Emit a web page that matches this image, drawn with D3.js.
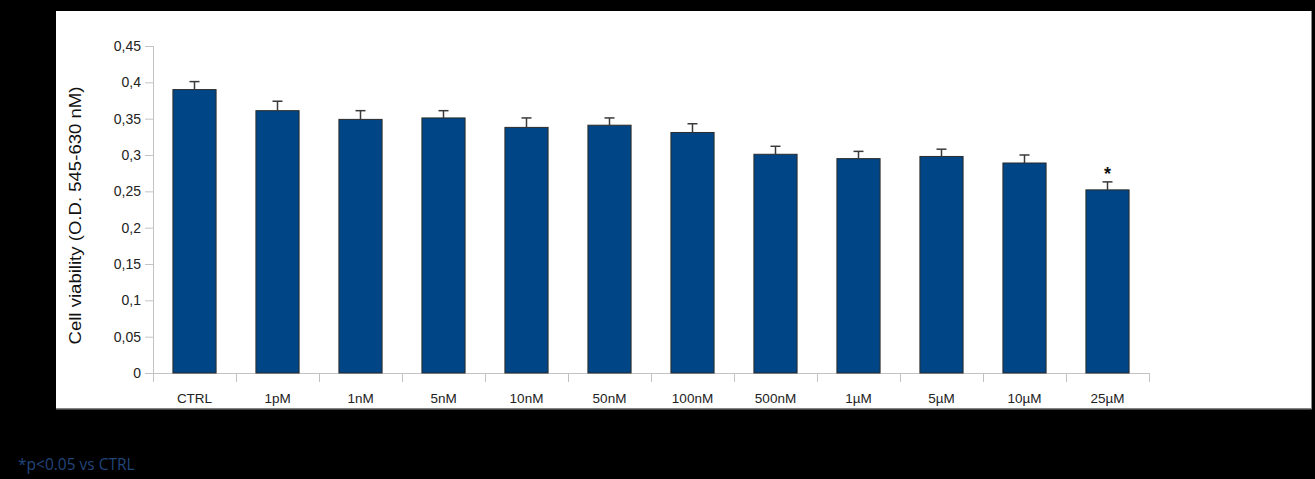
<!DOCTYPE html>
<html>
<head>
<meta charset="utf-8">
<script src="https://cdn.jsdelivr.net/npm/d3@7"></script>
<style>
  html, body { margin: 0; padding: 0; background: #000; }
  svg { display: block; }
</style>
</head>
<body>
<script>
// chart data
const categories = ["CTRL", "1pM", "1nM", "5nM", "10nM", "50nM", "100nM", "500nM", "1µM", "5µM", "10µM", "25µM"];
const means  = [0.390, 0.361, 0.349, 0.351, 0.338, 0.341, 0.331, 0.301, 0.295, 0.298, 0.289, 0.252];
const errors = [0.011, 0.013, 0.012, 0.010, 0.013, 0.010, 0.012, 0.011, 0.010, 0.010, 0.011, 0.011];
const significant = ["25µM"];
const yTicks = [0, 0.05, 0.1, 0.15, 0.2, 0.25, 0.3, 0.35, 0.4, 0.45];

const width = 1315, height = 479;
const margin = {top: 46, right: 166, bottom: 106, left: 153};

const svg = d3.select("body").append("svg")
    .attr("width", width)
    .attr("height", height);

svg.append("rect")
    .attr("width", width).attr("height", height)
    .attr("fill", "#000");

// white plot panel
svg.append("rect")
    .attr("x", 56).attr("y", 11)
    .attr("width", 1255).attr("height", 397.5)
    .attr("fill", "#fff");
svg.append("path")
    .attr("d", "M1311.5,11V409H56")
    .attr("fill", "none")
    .attr("stroke", "#8a8a8a");

const xScale = d3.scaleBand()
    .domain(categories)
    .range([margin.left, width - margin.right])
    .paddingInner(0.48)
    .paddingOuter(0.24);

const yScale = d3.scaleLinear()
    .domain([0, 0.45])
    .range([height - margin.bottom, margin.top]);

const fmt = (d) => d === 0 ? "0" : String(+d.toFixed(2)).replace(".", ",");

const axisColor = "#c3c3c3";
const font = "'Liberation Sans', Arial, sans-serif";

// y axis
const yAxis = svg.append("g")
    .attr("transform", `translate(${margin.left},0)`)
    .call(d3.axisLeft(yScale).tickValues(yTicks).tickFormat(fmt).tickSize(8).tickSizeOuter(0).tickPadding(4));
yAxis.select(".domain").attr("stroke", axisColor).attr("d", `M0.5,${yScale(0.45)}V${yScale(0) + 9}`);
yAxis.selectAll(".tick line").attr("stroke", axisColor);
yAxis.selectAll(".tick text")
    .attr("fill", "#222")
    .style("font-family", font)
    .style("font-size", "14px");

// x axis
const xAxis = svg.append("g")
    .attr("transform", `translate(0,${yScale(0)})`)
    .call(d3.axisBottom(xScale).tickSize(0).tickPadding(20));
xAxis.select(".domain").attr("stroke", axisColor).attr("d", `M${margin.left - 8},0.5H${width - margin.right}`);
xAxis.selectAll(".tick text")
    .attr("fill", "#222")
    .style("font-family", font)
    .style("font-size", "13.5px");

// category separators
const step = xScale.step();
svg.append("g")
    .selectAll("line")
    .data(d3.range(categories.length + 1))
    .join("line")
    .attr("x1", (i) => margin.left + i * step + 0.5)
    .attr("x2", (i) => margin.left + i * step + 0.5)
    .attr("y1", yScale(0))
    .attr("y2", yScale(0) + 9)
    .attr("stroke", axisColor);

// bars
svg.append("g")
    .selectAll("rect")
    .data(categories)
    .join("rect")
    .attr("x", (d) => xScale(d))
    .attr("y", (d, i) => yScale(means[i]))
    .attr("width", xScale.bandwidth())
    .attr("height", (d, i) => yScale(0) - yScale(means[i]))
    .attr("fill", "#004586")
    .attr("stroke", "#2b2b2b")
    .attr("stroke-width", 1);

// error bars
const eb = svg.append("g").attr("stroke", "#3a3a3a").attr("stroke-width", 1.5);
categories.forEach((c, i) => {
    const cx = xScale(c) + xScale.bandwidth() / 2;
    eb.append("line")
        .attr("x1", cx).attr("x2", cx)
        .attr("y1", yScale(means[i])).attr("y2", yScale(means[i] + errors[i]));
    eb.append("line")
        .attr("x1", cx - 5).attr("x2", cx + 5)
        .attr("y1", yScale(means[i] + errors[i])).attr("y2", yScale(means[i] + errors[i]));
});

// significance markers
significant.forEach((c) => {
    const i = categories.indexOf(c);
    svg.append("text")
        .attr("x", xScale(c) + xScale.bandwidth() / 2)
        .attr("y", yScale(means[i] + errors[i]) - 2)
        .attr("text-anchor", "middle")
        .attr("fill", "#111")
        .style("font-family", font)
        .style("font-size", "18px")
        .style("font-weight", "bold")
        .text("*");
});

// y axis title
svg.append("text")
    .attr("transform", `translate(81,${(yScale(0) + yScale(0.45)) / 2 + 6}) rotate(-90)`)
    .attr("text-anchor", "middle")
    .attr("fill", "#111")
    .attr("textLength", 258)
    .attr("lengthAdjust", "spacingAndGlyphs")
    .style("font-family", font)
    .style("font-size", "16px")
    .text("Cell viability (O.D. 545-630 nM)");

// footnote
svg.append("text")
    .attr("x", 18)
    .attr("y", 470)
    .attr("fill", "#22457a")
    .style("font-family", "'Open Sans', sans-serif")
    .style("font-size", "15.5px")
    .text("*p<0.05 vs CTRL");
</script>
</body>
</html>
